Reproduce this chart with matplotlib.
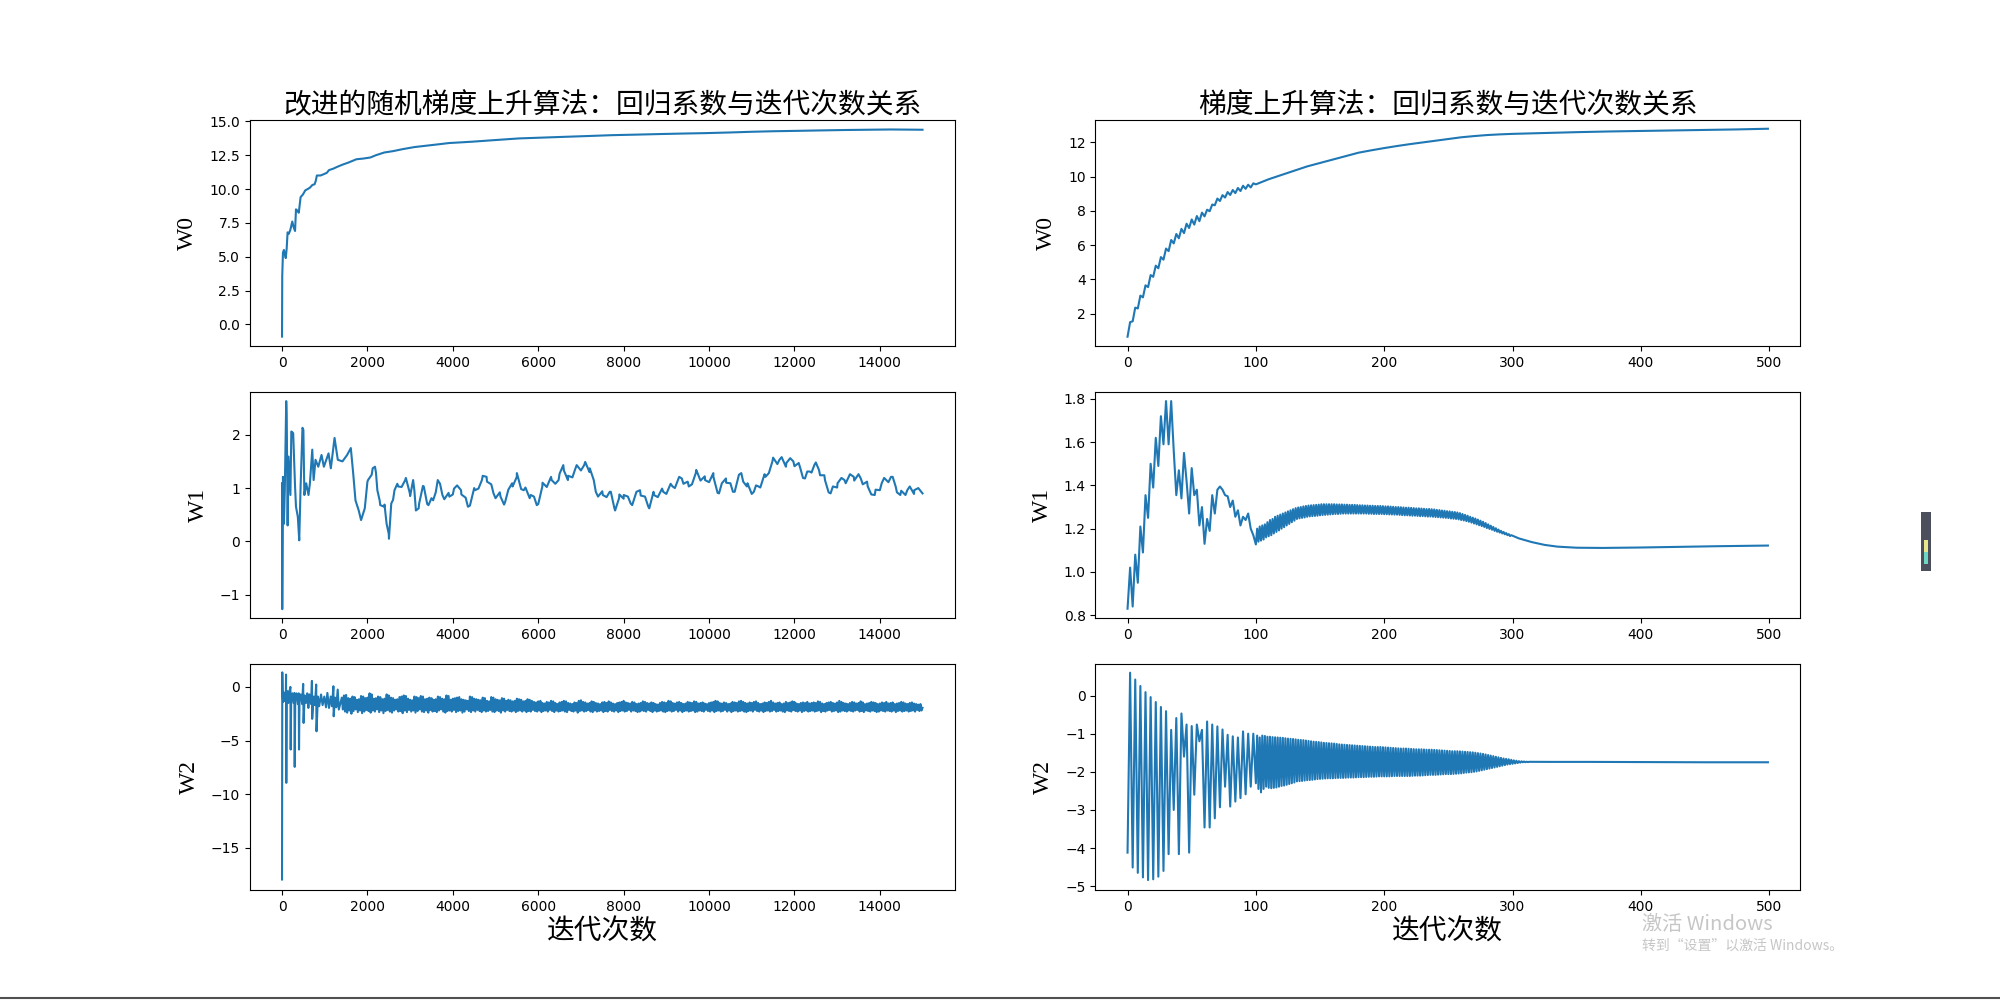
import numpy as np
import matplotlib
matplotlib.use('Agg')
import matplotlib.pyplot as plt
from matplotlib.lines import Line2D
from matplotlib.patches import Rectangle

# ---------------- text ----------------
titles = ['改进的随机梯度上升算法：回归系数与迭代次数关系', '梯度上升算法：回归系数与迭代次数关系']
ylabels = ['W0', 'W1', 'W2']
xlabel_text = '迭代次数'
watermark_1 = '激活 Windows'
watermark_2 = '转到“设置”以激活 Windows。'

# ---------------- left column: improved stochastic gradient ascent (15000 updates) ----------------
sga_w0_iter = [0, 5, 22, 44, 65, 87, 109, 130, 160, 196, 240, 270, 305, 327, 360, 392, 435, 490, 544,
               600, 653, 710, 762, 790, 816, 900, 980, 1050, 1100, 1197, 1300, 1415, 1550, 1742, 1900,
               2068, 2200, 2395, 2600, 2830, 3100, 3375, 3650, 3919, 4200, 4463, 5000, 5552, 6100, 6641,
               7200, 7729, 8300, 8818, 9400, 9906, 10500, 10995, 11500, 12084, 12600, 13172, 13700,
               14261, 14999]
sga_w0 = [-0.9, 3.6, 5.3, 5.5, 5.2, 4.9, 5.6, 6.8, 6.7, 7.0, 7.6, 7.2, 6.9, 8.5, 8.4, 8.25, 9.4, 9.6, 9.9,
          10.0, 10.1, 10.3, 10.35, 10.6, 11.0, 11.0, 11.1, 11.2, 11.4, 11.5, 11.65, 11.8, 11.95, 12.2, 12.25,
          12.33, 12.5, 12.7, 12.8, 12.95, 13.1, 13.2, 13.3, 13.4, 13.45, 13.5, 13.62, 13.74, 13.8, 13.86,
          13.92, 13.98, 14.02, 14.06, 14.1, 14.13, 14.18, 14.23, 14.27, 14.3, 14.33, 14.36, 14.38,
          14.4, 14.38]

sga_w1_iter = [0, 5, 22, 44, 65, 98, 110, 131, 152, 196,
               218, 261, 305, 327, 370, 403, 435, 479, 500, 523,
               566, 620, 653, 708, 740, 784, 849, 925, 980, 1089,
               1143, 1230, 1306, 1415, 1524, 1611, 1666, 1720, 1796, 1851,
               1938, 2014, 2123, 2177, 2232, 2286, 2395, 2449, 2504, 2558,
               2634, 2721, 2885, 2994, 3070, 3135, 3211, 3320, 3429, 3538,
               3647, 3756, 3919, 4028, 4192, 4354, 4518, 4681, 4790, 4953,
               5116, 5225, 5389, 5498, 5661, 5824, 5966, 6096, 6314, 6477,
               6587, 6695, 6859, 7076, 7207, 7348, 7511, 7675, 7784, 7893,
               8002, 8165, 8383, 8578, 8709, 8927, 9145, 9362, 9526, 9689,
               9906, 10102, 10233, 10396, 10559, 10755, 10886, 11049, 11158, 11321,
               11484, 11648, 11811, 11974, 12138, 12247, 12356, 12465, 12574, 12715,
               12846, 13009, 13172, 13390, 13553, 13716, 13880, 14043, 14261, 14370,
               14479, 14642, 14805, 14999]
sga_w1 = [1.09, -1.27, 1.21, 0.33, 0.96, 2.63, 2.35, 0.30, 1.59, 0.87,
          2.06, 2.03, 1.03, 0.65, 0.46, 0.02, 1.03, 2.13, 2.09, 0.87,
          1.09, 0.87, 1.09, 1.72, 1.15, 1.53, 1.40, 1.62, 1.40, 1.65,
          1.37, 1.94, 1.53, 1.50, 1.62, 1.75, 1.28, 0.77, 0.58, 0.40,
          0.62, 1.15, 1.37, 1.40, 0.96, 0.77, 0.65, 0.33, 0.05, 0.71,
          0.96, 1.03, 1.15, 0.90, 1.15, 0.58, 0.71, 1.03, 0.68, 0.77,
          1.15, 0.87, 0.84, 0.99, 0.96, 0.65, 0.96, 1.15, 1.21, 0.90,
          0.84, 0.74, 1.09, 1.21, 0.96, 0.87, 0.68, 1.03, 1.15, 1.15,
          1.43, 1.15, 1.34, 1.43, 1.37, 0.93, 0.87, 0.93, 0.62, 0.81,
          0.87, 0.71, 0.96, 0.65, 0.87, 0.93, 1.03, 1.18, 1.03, 1.28,
          1.15, 1.21, 0.90, 1.18, 0.93, 1.28, 1.03, 0.93, 1.03, 1.21,
          1.50, 1.53, 1.47, 1.50, 1.37, 1.18, 1.31, 1.43, 1.34, 1.15,
          0.90, 1.09, 1.15, 1.21, 1.18, 1.03, 0.87, 1.09, 1.21, 1.03,
          0.87, 0.96, 0.96, 0.90]
# extra readings every 100 updates from 2000 on (small-scale wiggle of the line)
sga_w1_fine_start = 2000
sga_w1_fine = [1.12, 1.25, 1.29, 0.68, 0.69, 0.14, 0.78, 1.08, 1.02, 1.19,
               0.85, 0.95, 0.62, 1.04, 0.70, 0.81, 0.92, 1.08, 0.79, 0.91,
               0.88, 1.05, 0.88, 0.82, 0.67, 1.0, 0.99, 1.23, 1.12, 1.07,
               0.81, 0.92, 0.69, 0.97, 1.03, 1.28, 0.98, 1.01, 0.81, 0.84,
               0.70, 1.10, 1.02, 1.21, 1.08, 1.27, 1.33, 1.23, 1.20, 1.43,
               1.33, 1.49, 1.30, 1.15, 0.84, 0.94, 0.83, 0.93, 0.58, 0.88,
               0.80, 0.84, 0.68, 0.93, 0.86, 0.84, 0.62, 0.93, 0.83, 0.99,
               0.89, 1.08, 1.00, 1.21, 1.08, 1.12, 1.07, 1.34, 1.14, 1.22,
               1.11, 1.28, 0.91, 1.09, 1.10, 1.09, 0.93, 1.25, 1.12, 1.09,
               0.89, 1.05, 1.01, 1.26, 1.28, 1.57, 1.45, 1.58, 1.40, 1.56,
               1.41, 1.47, 1.19, 1.31, 1.29, 1.48, 1.24, 1.24, 0.92, 1.03,
               1.01, 1.19, 1.09, 1.26, 1.14, 1.26, 1.07, 1.12, 0.88, 0.97,
               0.96, 1.19, 1.11, 1.21, 0.92, 0.95, 0.87, 1.03, 0.89, 1.0]

sga_w2_iter = [0, 6, 12, 25, 40, 55, 70, 88, 94, 100, 110, 130, 148, 170, 196, 203, 215, 240, 270, 290,
               297, 310, 340, 370, 392, 398, 410, 440, 470, 495, 505, 530, 560, 590, 617, 640, 680, 700,
               706, 740, 770, 800, 808, 840, 870, 914, 950, 990, 1030, 1062, 1100, 1140, 1170, 1203,
               1210, 1240, 1270, 1304, 1330]
sga_w2 = [-17.96, 1.36, -0.3, -1.4, -0.5, -1.3, -0.6, -1.2, 1.15, -8.95, -1.0, -0.4, -1.5, -0.5, 0.0,
          -5.84, -1.0, -0.6, -1.5, -0.56, -7.46, -1.0, -0.6, -1.6, -0.6, -5.84, -1.0, -0.7, -1.6, 0.28,
          -3.36, -0.8, -1.5, -0.6, -1.96, -0.7, -1.6, 0.56, -2.98, -0.9, -1.7, 0.22, -4.14, -0.9, -1.8,
          -0.71, -1.7, -0.9, -1.9, -0.56, -1.96, -0.9, -1.8, 0.06, -2.74, -1.0, -1.9, -0.25, -2.11]
# noisy band afterwards: upper swings at 1400, 1450, ... and lower swings at 1425, 1475, ...
sga_w2_band_start = 1400
sga_w2_band_upper = [
    -1.0, -0.8, -0.75, -1.05, -1.1, -0.9, -0.95, -1.2, -1.15, -0.85, -0.9, -1.05, -1.0, -0.6, -0.7, -1.1, -1.05,
    -0.9, -0.95, -1.15, -1.1, -0.7, -0.8, -1.0, -1.05, -1.2, -1.15, -0.95, -0.9, -0.8, -0.85, -1.1, -1.2, -1.25,
    -0.9, -0.95, -1.05, -0.85, -0.9, -1.15, -1.1, -1.0, -1.05, -1.2, -1.15, -0.9, -0.95, -1.1, -1.15, -0.8, -0.85,
    -1.2, -1.1, -1.05, -1.0, -0.95, -1.15, -1.2, -1.25, -1.3, -0.9, -0.95, -1.1, -1.15, -1.2, -1.25, -1.0, -1.05,
    -1.3, -1.35, -0.95, -1.0, -1.15, -1.2, -1.25, -1.05, -1.1, -1.3, -1.2, -1.25, -1.35, -1.3, -1.1, -1.15, -1.2,
    -1.35, -1.3, -1.15, -1.2, -1.3, -1.4, -1.45, -1.35, -1.3, -1.5, -1.55, -1.4, -1.45, -1.3, -1.35, -1.5, -1.6,
    -1.45, -1.4, -1.3, -1.35, -1.5, -1.55, -1.6, -1.45, -1.5, -1.3, -1.25, -1.4, -1.45, -1.55, -1.5, -1.35, -1.4,
    -1.5, -1.55, -1.6, -1.45, -1.4, -1.5, -1.35, -1.45, -1.55, -1.6, -1.5, -1.45, -1.4, -1.3, -1.45, -1.5, -1.55,
    -1.4, -1.45, -1.6, -1.55, -1.5, -1.35, -1.4, -1.5, -1.55, -1.45, -1.5, -1.6, -1.65, -1.5, -1.4, -1.45, -1.5,
    -1.3, -1.35, -1.5, -1.55, -1.45, -1.4, -1.5, -1.6, -1.55, -1.4, -1.45, -1.5, -1.35, -1.4, -1.55, -1.5, -1.45,
    -1.55, -1.6, -1.5, -1.45, -1.4, -1.3, -1.35, -1.5, -1.55, -1.45, -1.5, -1.6, -1.55, -1.4, -1.45, -1.5, -1.35,
    -1.3, -1.4, -1.5, -1.55, -1.45, -1.5, -1.4, -1.35, -1.5, -1.6, -1.55, -1.45, -1.5, -1.4, -1.3, -1.45, -1.55,
    -1.5, -1.45, -1.6, -1.55, -1.4, -1.5, -1.45, -1.35, -1.4, -1.55, -1.6, -1.5, -1.45, -1.5, -1.4, -1.55, -1.5,
    -1.45, -1.5, -1.35, -1.4, -1.55, -1.6, -1.5, -1.45, -1.4, -1.5, -1.55, -1.45, -1.3, -1.4, -1.5, -1.55, -1.6,
    -1.5, -1.4, -1.45, -1.55, -1.5, -1.35, -1.45, -1.6, -1.55, -1.5, -1.4, -1.45, -1.5, -1.6, -1.55, -1.45, -1.5,
    -1.4, -1.55, -1.5, -1.45, -1.6, -1.55, -1.5, -1.4, -1.45, -1.55, -1.6, -1.5, -1.45, -1.55, -1.6, -1.65, -1.6]
sga_w2_band_lower = [
    -2.1, -2.3, -2.4, -2.2, -2.5, -2.25, -2.1, -2.35, -2.2, -2.45, -2.3, -2.15, -2.25, -2.4, -2.2, -2.3, -2.1,
    -2.35, -2.2, -2.45, -2.25, -2.15, -2.3, -2.4, -2.2, -2.1, -2.3, -2.25, -2.45, -2.2, -2.35, -2.15, -2.3, -2.2,
    -2.4, -2.25, -2.1, -2.3, -2.35, -2.2, -2.4, -2.15, -2.3, -2.25, -2.35, -2.2, -2.1, -2.3, -2.4, -2.25, -2.2,
    -2.3, -2.15, -2.35, -2.25, -2.2, -2.4, -2.3, -2.1, -2.25, -2.35, -2.2, -2.3, -2.15, -2.25, -2.35, -2.2, -2.3,
    -2.25, -2.15, -2.3, -2.35, -2.2, -2.25, -2.4, -2.2, -2.3, -2.15, -2.25, -2.3, -2.2, -2.35, -2.25, -2.2, -2.3,
    -2.2, -2.35, -2.25, -2.3, -2.15, -2.25, -2.3, -2.2, -2.35, -2.25, -2.2, -2.3, -2.15, -2.25, -2.35, -2.2, -2.3,
    -2.25, -2.2, -2.3, -2.35, -2.15, -2.25, -2.3, -2.2, -2.4, -2.25, -2.2, -2.3, -2.25, -2.15, -2.3, -2.35, -2.2,
    -2.3, -2.25, -2.2, -2.35, -2.25, -2.3, -2.15, -2.25, -2.3, -2.2, -2.35, -2.25, -2.2, -2.3, -2.25, -2.15, -2.3,
    -2.2, -2.25, -2.35, -2.3, -2.2, -2.25, -2.3, -2.15, -2.25, -2.35, -2.2, -2.3, -2.25, -2.2, -2.3, -2.35, -2.25,
    -2.2, -2.3, -2.25, -2.15, -2.3, -2.2, -2.35, -2.25, -2.2, -2.3, -2.25, -2.2, -2.35, -2.3, -2.2, -2.25, -2.3,
    -2.15, -2.25, -2.3, -2.2, -2.35, -2.25, -2.2, -2.3, -2.25, -2.15, -2.3, -2.2, -2.35, -2.25, -2.2, -2.3, -2.25,
    -2.2, -2.3, -2.35, -2.25, -2.2, -2.3, -2.15, -2.25, -2.3, -2.2, -2.35, -2.25, -2.2, -2.3, -2.25, -2.15, -2.3,
    -2.25, -2.2, -2.3, -2.35, -2.2, -2.25, -2.3, -2.15, -2.25, -2.3, -2.2, -2.35, -2.25, -2.2, -2.3, -2.25, -2.2,
    -2.3, -2.25, -2.2, -2.35, -2.25, -2.3, -2.2, -2.15, -2.3, -2.25, -2.2, -2.35, -2.3, -2.2, -2.25, -2.3, -2.2,
    -2.25, -2.3, -2.2, -2.15, -2.3, -2.25, -2.35, -2.2, -2.25, -2.3, -2.2, -2.25, -2.35, -2.3, -2.2, -2.25, -2.3,
    -2.2, -2.25, -2.3, -2.2, -2.35, -2.25, -2.2, -2.3, -2.25, -2.2, -2.3, -2.25, -2.2, -2.3, -2.15, -2.25, -2.2]
sga_w2_last = [14999, -1.95]

# ---------------- right column: batch gradient ascent (500 cycles) ----------------
# W0: values every 2 cycles for cycles 0..98, then coarser
ga_w0_dense = [0.65, 1.5, 1.55, 2.35, 2.3, 3.05, 2.95, 3.65, 3.55, 4.25,
               4.15, 4.8, 4.65, 5.3, 5.15, 5.8, 5.65, 6.3, 6.1, 6.65,
               6.4, 6.95, 6.7, 7.25, 7.0, 7.5, 7.2, 7.7, 7.4, 7.9,
               7.68, 8.07, 7.98, 8.37, 8.33, 8.72, 8.58, 8.92, 8.78, 9.1,
               8.93, 9.22, 9.04, 9.34, 9.16, 9.47, 9.29, 9.53, 9.37, 9.61]
ga_w0_tail_iter = [100, 110, 120, 130, 140, 150, 160, 170, 180, 190, 200, 210, 220, 230, 240, 250, 260,
                   270, 280, 290, 300, 325, 350, 375, 400, 425, 450, 475, 499]
ga_w0_tail = [9.55, 9.85, 10.1, 10.35, 10.6, 10.8, 11.0, 11.2, 11.4, 11.54, 11.67, 11.79, 11.9, 12.0,
              12.1, 12.2, 12.3, 12.37, 12.43, 12.47, 12.5, 12.55, 12.6, 12.64, 12.67, 12.7, 12.73,
              12.76, 12.8]

# W1: values every 2 cycles for cycles 0..98
ga_w1_early = [0.83, 1.02, 0.84, 1.08, 0.95, 1.21, 1.09, 1.355, 1.25, 1.50,
               1.39, 1.62, 1.49, 1.72, 1.59, 1.79, 1.59, 1.79, 1.56, 1.355,
               1.47, 1.34, 1.55, 1.42, 1.27, 1.48, 1.355, 1.38, 1.215, 1.30,
               1.13, 1.245, 1.19, 1.355, 1.27, 1.38, 1.395, 1.38, 1.355, 1.35,
               1.30, 1.33, 1.255, 1.285, 1.215, 1.255, 1.24, 1.27, 1.20, 1.17]
# W1 oscillation band: lows at even cycles 100..298, highs at odd cycles 101..299
ga_w1_band_low = [1.127, 1.14, 1.145, 1.15, 1.16, 1.165, 1.17, 1.178, 1.185, 1.192,
                  1.2, 1.207, 1.215, 1.222, 1.23, 1.237, 1.245, 1.248, 1.25, 1.252,
                  1.255, 1.257, 1.258, 1.259, 1.26, 1.262, 1.263, 1.264, 1.265, 1.266,
                  1.267, 1.268, 1.268, 1.269, 1.27, 1.27, 1.27, 1.27, 1.27, 1.27,
                  1.27, 1.27, 1.27, 1.27, 1.269, 1.269, 1.268, 1.268, 1.268, 1.268,
                  1.267, 1.267, 1.266, 1.266, 1.265, 1.265, 1.264, 1.263, 1.262, 1.262,
                  1.261, 1.26, 1.26, 1.259, 1.258, 1.258, 1.257, 1.256, 1.256, 1.255,
                  1.254, 1.253, 1.252, 1.251, 1.25, 1.249, 1.247, 1.246, 1.245, 1.243,
                  1.24, 1.238, 1.235, 1.232, 1.228, 1.224, 1.22, 1.216, 1.212, 1.208,
                  1.203, 1.199, 1.195, 1.19, 1.186, 1.182, 1.178, 1.174, 1.17, 1.166]
ga_w1_band_high = [1.2, 1.21, 1.215, 1.22, 1.23, 1.24, 1.245, 1.255, 1.26, 1.265,
                   1.27, 1.275, 1.28, 1.285, 1.29, 1.295, 1.298, 1.3, 1.303, 1.305,
                   1.307, 1.308, 1.309, 1.31, 1.311, 1.313, 1.313, 1.313, 1.313, 1.313,
                   1.313, 1.312, 1.312, 1.312, 1.311, 1.311, 1.31, 1.31, 1.31, 1.309,
                   1.308, 1.308, 1.307, 1.307, 1.306, 1.306, 1.305, 1.305, 1.305, 1.304,
                   1.303, 1.303, 1.302, 1.301, 1.3, 1.3, 1.299, 1.298, 1.297, 1.297,
                   1.296, 1.295, 1.294, 1.294, 1.293, 1.292, 1.291, 1.291, 1.29, 1.289,
                   1.287, 1.286, 1.284, 1.283, 1.281, 1.28, 1.278, 1.277, 1.275, 1.272,
                   1.268, 1.264, 1.26, 1.255, 1.251, 1.247, 1.242, 1.237, 1.232, 1.226,
                   1.22, 1.214, 1.208, 1.202, 1.196, 1.19, 1.185, 1.18, 1.175, 1.17]
ga_w1_tail_iter = [305, 315, 325, 335, 350, 370, 400, 430, 460, 499]
ga_w1_tail = [1.155, 1.138, 1.125, 1.117, 1.112, 1.111, 1.113, 1.116, 1.119, 1.122]

# W2 early swings: troughs at cycles 0, 4, ..., 96 and peaks at 2, 6, ..., 98
ga_w2_early_troughs = [-4.12, -4.51, -4.65, -4.77, -4.84, -4.82, -4.75, -4.6, -4.16, -3.0,
                       -4.16, -1.6, -4.12, -2.6, -1.2, -3.46, -3.46, -3.22, -2.93, -2.39,
                       -2.91, -2.78, -2.69, -2.59, -2.39]
ga_w2_early_peaks = [0.6, 0.42, 0.25, 0.09, -0.04, -0.17, -0.3, -0.41, -0.9, -0.59,
                     -0.47, -0.76, -0.8, -0.76, -0.9, -0.68, -0.76, -0.81, -0.89, -1.03,
                     -1.07, -1.1, -0.94, -1.0, -1.0]
# W2 band: troughs at even cycles 100..312, peaks at odd cycles 101..313
ga_w2_band_troughs = [-2.3, -2.45, -2.54, -2.45, -2.39, -2.42, -2.43, -2.42, -2.41, -2.39,
                      -2.37, -2.36, -2.34, -2.32, -2.3, -2.28, -2.25, -2.245, -2.24, -2.23,
                      -2.22, -2.215, -2.21, -2.2, -2.19, -2.185, -2.18, -2.175, -2.17, -2.17,
                      -2.17, -2.165, -2.16, -2.16, -2.16, -2.155, -2.15, -2.15, -2.15, -2.145,
                      -2.14, -2.14, -2.14, -2.135, -2.13, -2.13, -2.13, -2.125, -2.12, -2.12,
                      -2.12, -2.12, -2.12, -2.115, -2.11, -2.11, -2.11, -2.11, -2.11, -2.11,
                      -2.11, -2.105, -2.1, -2.1, -2.1, -2.095, -2.09, -2.085, -2.08, -2.08,
                      -2.08, -2.075, -2.07, -2.065, -2.06, -2.06, -2.06, -2.055, -2.05, -2.045,
                      -2.04, -2.03, -2.02, -2.015, -2.01, -2.0, -1.99, -1.975, -1.96, -1.945,
                      -1.93, -1.915, -1.9, -1.885, -1.87, -1.855, -1.84, -1.825, -1.81, -1.8,
                      -1.79, -1.78, -1.77, -1.76, -1.75, -1.748, -1.745]
ga_w2_band_peaks = [-1.05, -1.1, -1.05, -1.06, -1.08, -1.08, -1.09, -1.095, -1.1, -1.105,
                    -1.11, -1.12, -1.13, -1.135, -1.14, -1.15, -1.16, -1.165, -1.17, -1.18,
                    -1.19, -1.2, -1.21, -1.215, -1.22, -1.23, -1.24, -1.245, -1.25, -1.255,
                    -1.26, -1.27, -1.28, -1.285, -1.29, -1.295, -1.3, -1.305, -1.31, -1.315,
                    -1.32, -1.325, -1.33, -1.335, -1.34, -1.345, -1.35, -1.35, -1.35, -1.355,
                    -1.36, -1.365, -1.37, -1.375, -1.38, -1.385, -1.39, -1.39, -1.39, -1.395,
                    -1.4, -1.405, -1.41, -1.41, -1.41, -1.415, -1.42, -1.42, -1.42, -1.425,
                    -1.43, -1.435, -1.44, -1.445, -1.45, -1.455, -1.46, -1.46, -1.46, -1.465,
                    -1.47, -1.475, -1.48, -1.485, -1.49, -1.5, -1.51, -1.52, -1.53, -1.545,
                    -1.56, -1.575, -1.59, -1.605, -1.62, -1.635, -1.65, -1.66, -1.67, -1.685,
                    -1.7, -1.71, -1.72, -1.725, -1.73, -1.735, -1.738]
ga_w2_tail_iter = [330, 360, 400, 450, 499]
ga_w2_tail = [-1.74, -1.74, -1.745, -1.75, -1.75]


# ---------------- assemble series ----------------
def merge(*pairs):
    x = np.concatenate([np.asarray(p[0], float) for p in pairs])
    y = np.concatenate([np.asarray(p[1], float) for p in pairs])
    o = np.argsort(x, kind='stable')
    return x[o], y[o]


def steps(start, step, vals):
    return start + step * np.arange(len(vals))


# left W1 (main readings + fine wiggle readings)
l1x, l1y = merge((sga_w1_iter, sga_w1),
                 (steps(sga_w1_fine_start, 100, sga_w1_fine), sga_w1_fine))
# left W2
l2x, l2y = merge((sga_w2_iter, sga_w2),
                 (steps(sga_w2_band_start, 50, sga_w2_band_upper), sga_w2_band_upper),
                 (steps(sga_w2_band_start + 25, 50, sga_w2_band_lower), sga_w2_band_lower),
                 ([sga_w2_last[0]], [sga_w2_last[1]]))
# right W0
r0x, r0y = merge((steps(0, 2, ga_w0_dense), ga_w0_dense), (ga_w0_tail_iter, ga_w0_tail))
# right W1
r1x, r1y = merge((steps(0, 2, ga_w1_early), ga_w1_early),
                 (steps(100, 2, ga_w1_band_low), ga_w1_band_low),
                 (steps(101, 2, ga_w1_band_high), ga_w1_band_high),
                 (ga_w1_tail_iter, ga_w1_tail))
# right W2
r2x, r2y = merge((steps(0, 4, ga_w2_early_troughs), ga_w2_early_troughs),
                 (steps(2, 4, ga_w2_early_peaks), ga_w2_early_peaks),
                 (steps(100, 2, ga_w2_band_troughs), ga_w2_band_troughs),
                 (steps(101, 2, ga_w2_band_peaks), ga_w2_band_peaks),
                 (ga_w2_tail_iter, ga_w2_tail))

series = [
    [(sga_w0_iter, sga_w0), (r0x, r0y)],
    [(l1x, l1y), (r1x, r1y)],
    [(l2x, l2y), (r2x, r2y)],
]
ylims = [[(-1.63, 15.1), (0.08, 13.31)],
         [(-1.44, 2.805), (0.786, 1.833)],
         [(-18.94, 2.18), (-5.1, 0.84)]]
xlims = [(-750, 15749), (-25, 524)]

# ---------------- draw ----------------
plt.rcParams['font.family'] = ['DejaVu Sans', 'Noto Sans CJK SC']
fig, axs = plt.subplots(3, 2, figsize=(20, 10), dpi=100)
cjk = ['Noto Sans CJK SC', 'DejaVu Sans']

for r in range(3):
    for c in range(2):
        ax = axs[r, c]
        x, y = series[r][c]
        ax.plot(x, y, color='#1f77b4', lw=1.5)
        ax.set_xlim(*xlims[c])
        ax.set_ylim(*ylims[r][c])
        ax.set_ylabel(ylabels[r], family='Liberation Serif', fontsize=17, labelpad=8)
        if r == 0:
            ax.set_title(titles[c], family=cjk, fontsize=20, pad=5)
        if r == 2:
            ax.set_xlabel(xlabel_text, family=cjk, fontsize=20, labelpad=2)

# screenshot artefacts: watermark, bottom border, side widget
fig.text(0.821, 0.070, watermark_1, family=cjk, fontsize=14.5, color='#c6c6c6', va='baseline')
fig.text(0.821, 0.050, watermark_2, family=cjk, fontsize=10, color='#c6c6c6', va='baseline')
fig.add_artist(Line2D([0, 1], [0.002, 0.002], transform=fig.transFigure, color='#505050', lw=1.5))
fig.add_artist(Rectangle((0.9605, 0.429), 0.005, 0.059, transform=fig.transFigure,
                         facecolor='#4b4f5c', edgecolor='none'))
fig.add_artist(Rectangle((0.9622, 0.436), 0.0018, 0.012, transform=fig.transFigure,
                         facecolor='#6fd6c4', edgecolor='none'))
fig.add_artist(Rectangle((0.9622, 0.448), 0.0018, 0.012, transform=fig.transFigure,
                         facecolor='#e8e58a', edgecolor='none'))

fig.savefig('out.png', dpi=100)
